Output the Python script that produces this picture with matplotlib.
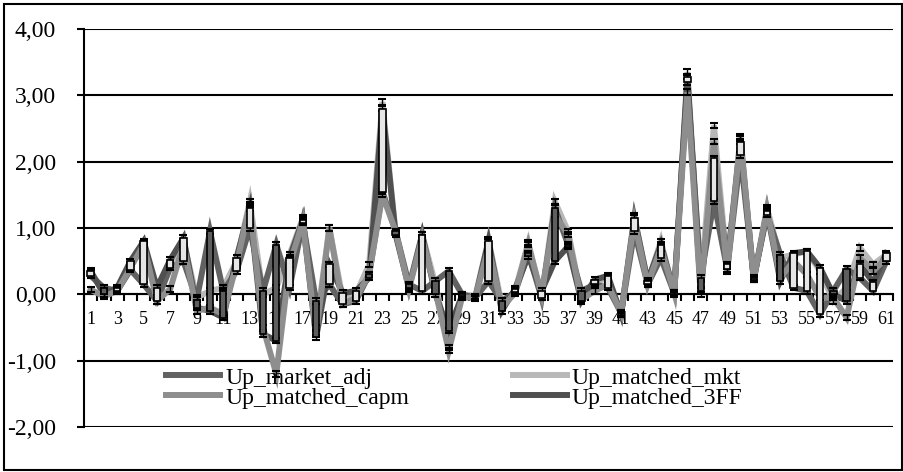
import matplotlib
matplotlib.use('Agg')
import matplotlib.pyplot as plt
from matplotlib.patches import Rectangle
import numpy as np

plt.rcParams['font.family'] = ['Liberation Serif', 'DejaVu Serif']

# categories 1..61
cats = list(range(1, 62))

up_market_adj = [0.28, 0.10, 0.05, 0.37, 0.15, -0.10, 0.40, 0.50, -0.08, 0.95,
                 0.05, 0.35, 1.00, 0.05, 0.75, 0.10, 1.08, -0.10, 0.15, -0.15,
                 -0.10, 0.30, 1.55, 0.95, 0.15, 0.05, 0.20, 0.35, 0.00, -0.05,
                 0.20, -0.10, 0.03, 0.62, -0.05, 1.30, 0.75, 0.05, 0.15, 0.10,
                 -0.28, 0.95, 0.15, 0.55, 0.02, 3.20, 0.25, 1.40, 0.38, 2.10,
                 0.25, 1.20, 0.60, 0.10, 0.05, -0.30, 0.05, 0.38, 0.25, 0.05,
                 0.50]
up_matched_mkt = [0.33, 0.05, 0.08, 0.45, 0.78, -0.05, 0.45, 0.80, -0.05, 0.05,
                  0.10, 0.50, 1.40, 0.00, 0.10, 0.60, 1.15, -0.50, 1.00, -0.05,
                  0.00, 0.45, 2.90, 0.92, 0.12, 0.90, 0.15, -0.80, 0.00, -0.03,
                  0.82, -0.15, 0.05, 0.78, -0.05, 1.40, 0.95, -0.05, 0.18, 0.25,
                  -0.30, 1.18, 0.18, 0.80, 0.00, 3.35, 0.15, 2.55, 0.42, 2.38,
                  0.23, 1.30, 0.55, 0.60, 0.65, 0.35, -0.10, 0.10, 0.70, 0.45,
                  0.60]
up_matched_capm = [0.07, -0.03, 0.05, 0.40, 0.75, -0.10, 0.08, 0.75, -0.25, -0.20,
                   -0.30, 0.45, 1.35, -0.50, -1.20, 0.45, 1.10, -0.60, 1.00, -0.15,
                   -0.05, 0.30, 1.50, 0.95, 0.08, 0.85, 0.05, -0.85, -0.05, -0.05,
                   0.70, -0.20, 0.02, 0.75, 0.00, 1.20, 0.90, -0.08, 0.05, 0.15,
                   -0.28, 1.10, 0.15, 0.70, 0.02, 3.05, 0.00, 2.30, 0.35, 2.35,
                   0.22, 1.28, 0.25, 0.50, 0.30, -0.05, -0.05, -0.35, 0.55, 0.35,
                   0.55]
up_matched_3ff = [0.35, 0.00, 0.10, 0.50, 0.80, 0.10, 0.52, 0.85, -0.20, -0.25,
                  -0.35, 0.55, 1.30, -0.60, -0.70, 0.55, 1.12, -0.65, 0.45, 0.02,
                  0.05, 0.25, 2.80, 0.90, 0.10, 0.90, 0.00, -0.55, -0.02, -0.06,
                  0.80, -0.25, 0.08, 0.58, 0.05, 0.50, 0.72, -0.10, 0.22, 0.28,
                  -0.30, 1.15, 0.20, 0.75, 0.03, 3.28, 0.05, 2.05, 0.45, 2.30,
                  0.22, 1.25, 0.20, 0.62, 0.65, 0.40, 0.00, -0.10, 0.45, 0.18,
                  0.62]

names = ['Up_market_adj', 'Up_matched_mkt', 'Up_matched_capm', 'Up_matched_3FF']
colors = ['#626262', '#b8b8b8', '#8e8e8e', '#505050']

fig = plt.figure(figsize=(9.04, 4.72), dpi=100)
ax = fig.add_axes([84/904, 1 - 427/472, 809/904, 398/472])

x = np.array(cats)
series = [up_market_adj, up_matched_mkt, up_matched_capm, up_matched_3ff]
zord = [3.2, 3.1, 3.4, 3.3]   # capm line ends up on top, like the excel chart
lines = []
for vals, name, c, z in zip(series, names, colors, zord):
    ln, = ax.plot(x, vals, color=c, lw=4.3, label=name, zorder=z,
                  solid_joinstyle='miter')
    lines.append(ln)

# small error bars on every point
for vals in series:
    ax.errorbar(x, vals, yerr=0.04, fmt='none', ecolor='black',
                elinewidth=1.0, capsize=3, capthick=1.5, zorder=4)

# up / down bars between first and last series
o = np.array(up_market_adj)
c3 = np.array(up_matched_3ff)
up = c3 >= o
ax.bar(x[up], (c3 - o)[up], bottom=o[up], width=0.48, color='#e6e6e6',
       edgecolor='black', lw=1.2, zorder=5)
ax.bar(x[~up], (c3 - o)[~up], bottom=o[~up], width=0.48, color='#5e5e5e',
       edgecolor='black', lw=1.2, zorder=5)

ax.set_xlim(0.5, 61.5)
ax.set_ylim(-2, 4)
ax.set_yticks(range(-2, 5))
ax.set_yticklabels([f'{v:.2f}'.replace('.', ',') for v in range(-2, 5)])
ax.yaxis.grid(True, color='black', lw=1.5)
ax.set_axisbelow(True)

ax.set_xticks(cats[::2])
ax.set_xticklabels([str(c) for c in cats[::2]])
ax.set_xticks(np.arange(0.5, 62, 1), minor=True)
ax.tick_params(axis='x', which='major', length=0, pad=12, labelsize=13)
ax.tick_params(axis='x', which='minor', length=5, width=1.5, direction='out')
ax.tick_params(axis='y', length=5, width=1.5, direction='out', pad=15,
               labelsize=17)

for s in ['top', 'right']:
    ax.spines[s].set_visible(False)
ax.spines['bottom'].set_position(('data', 0))
ax.spines['bottom'].set_linewidth(1.5)
ax.spines['left'].set_linewidth(1.5)

handles = [lines[0], lines[2], lines[1], lines[3]]
labels = [names[0], names[2], names[1], names[3]]
ax.legend(handles, labels, ncol=2, frameon=False, fontsize=17,
          loc='upper left', bbox_to_anchor=(166/904, 1 - 367/472),
          bbox_transform=fig.transFigure, borderpad=0, borderaxespad=0,
          handlelength=2.3, handletextpad=0.2, columnspacing=4.4,
          labelspacing=-0.06)

fig.patches.append(Rectangle((4/904, 2/472), 898/904, 466/472,
                             transform=fig.transFigure, fill=False,
                             lw=1.5, edgecolor='black'))

fig.savefig('out.png', dpi=100)
